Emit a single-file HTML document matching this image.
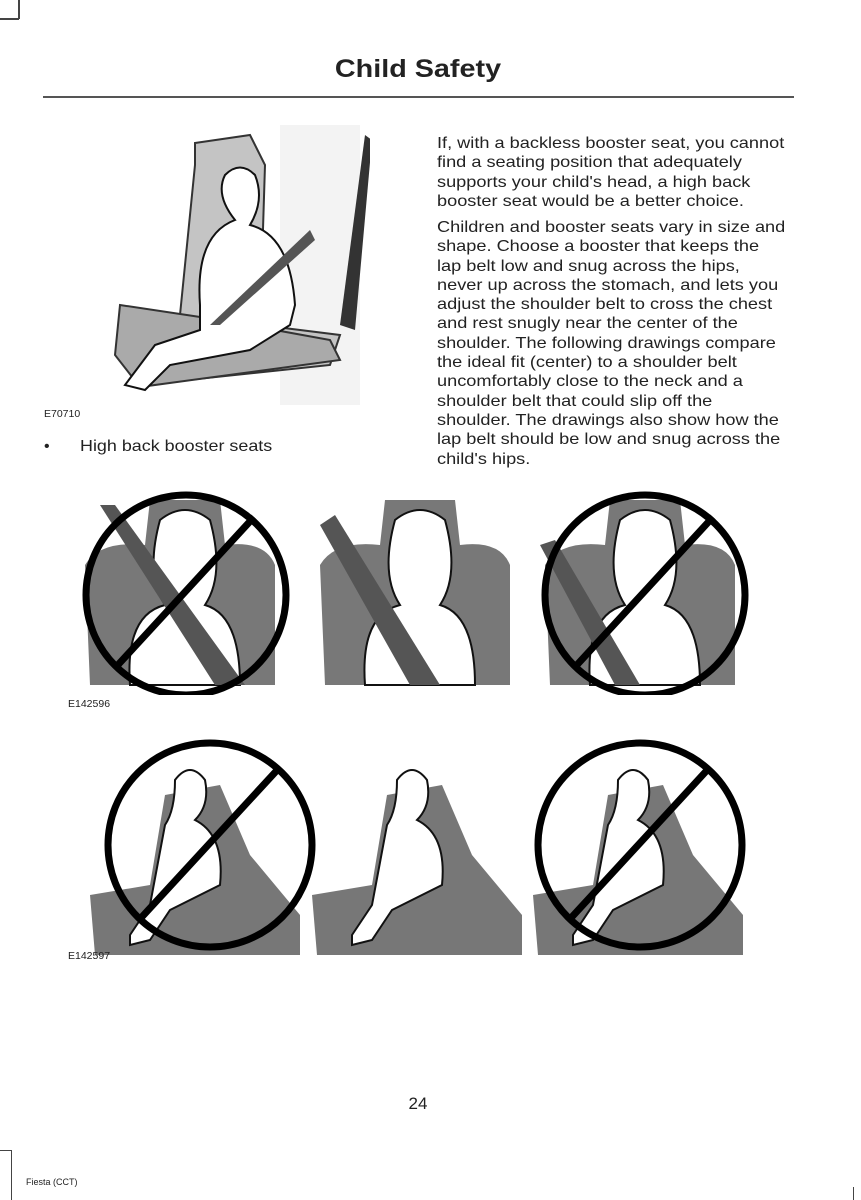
<!DOCTYPE html>
<html><head><meta charset="utf-8"><style>
body{margin:0;width:861px;height:1200px;position:relative;background:#fff;font-family:"Liberation Sans",sans-serif;color:#222;overflow:hidden}
.a{position:absolute}
.t{position:absolute;left:437px;width:320px;font-size:16px;line-height:19.3px;white-space:nowrap;transform:scaleX(1.135);transform-origin:0 0}
.lbl{position:absolute;font-size:10.5px}
</style></head><body>
<div class="a" style="left:18px;top:0;width:1.5px;height:19px;background:#444"></div>
<div class="a" style="left:0;top:18px;width:19px;height:1.5px;background:#444"></div>
<div class="a" style="left:0;top:1150px;width:11px;height:1px;background:#444"></div>
<div class="a" style="left:11px;top:1150px;width:1px;height:50px;background:#444"></div>
<div class="a" style="left:853px;top:1187px;width:1px;height:13px;background:#444"></div>
<div class="a" style="left:0;width:836px;top:55px;text-align:center;font-size:25px;font-weight:bold;transform:scaleX(1.15);transform-origin:418px 0">Child Safety</div>
<div class="a" style="left:43px;top:96px;width:751px;height:1.5px;background:#555"></div>

<svg class="a" style="left:100px;top:125px" width="270" height="285">
<rect x="180" y="0" width="80" height="280" fill="#f3f3f3"/>
<path d="M95 18 L150 10 L165 40 L160 200 L240 210 L230 240 L40 260 L30 215 L45 200 L80 190 L95 40 Z" fill="#c4c4c4" stroke="#333" stroke-width="2"/>
<path d="M20 180 L120 195 L230 215 L240 235 L40 262 L15 230 Z" fill="#aaa" stroke="#333" stroke-width="2"/>
<path d="M265 10 L240 200 L255 205 L272 15Z" fill="#333"/>
<path d="M100 180 Q95 110 135 95 Q115 70 125 50 Q140 35 155 50 Q165 75 150 100 Q190 110 195 180 L190 200 L150 225 L70 240 L45 265 L25 260 L55 220 L100 205Z" fill="#fff" stroke="#111" stroke-width="2"/>
<path d="M110 200 L210 105 L215 115 L120 200Z" fill="#555"/>
</svg>
<div class="lbl" style="left:44px;top:408px">E70710</div>
<div class="a" style="left:44px;top:438px;font-size:16px">•</div>
<div class="a" style="left:80px;top:438px;font-size:16px;transform:scaleX(1.12);transform-origin:0 0">High back booster seats</div>

<div class="t" style="top:134px">If, with a backless booster seat, you cannot<br>find a seating position that adequately<br>supports your child's head, a high back<br>booster seat would be a better choice.</div>
<div class="t" style="top:218px">Children and booster seats vary in size and<br>shape. Choose a booster that keeps the<br>lap belt low and snug across the hips,<br>never up across the stomach, and lets you<br>adjust the shoulder belt to cross the chest<br>and rest snugly near the center of the<br>shoulder. The following drawings compare<br>the ideal fit (center) to a shoulder belt<br>uncomfortably close to the neck and a<br>shoulder belt that could slip off the<br>shoulder. The drawings also show how the<br>lap belt should be low and snug across the<br>child's hips.</div>

<svg class="a" style="left:0;top:485px" width="861" height="210">
<g id="p">
<path d="M90 200 L85 80 Q100 55 145 60 L150 15 L220 15 L225 60 Q265 55 275 80 L275 200Z" fill="#787878"/>
<path d="M130 200 Q125 130 165 120 Q145 90 160 35 Q185 15 210 35 Q225 90 205 120 Q240 130 240 200Z" fill="#fff" stroke="#111" stroke-width="2"/>
</g>
<use href="#p" x="235"/>
<use href="#p" x="460"/>
<path d="M100 20 L115 20 L245 200 L215 200Z" fill="#555"/>
<path d="M320 40 L335 30 L440 200 L410 200Z" fill="#555"/>
<path d="M540 60 L555 55 L640 200 L615 200Z" fill="#555"/>
<circle cx="186" cy="110" r="100" fill="none" stroke="#000" stroke-width="7"/>
<line x1="116" y1="182" x2="254" y2="32" stroke="#000" stroke-width="7"/>
<circle cx="645" cy="110" r="100" fill="none" stroke="#000" stroke-width="7"/>
<line x1="575" y1="182" x2="713" y2="32" stroke="#000" stroke-width="7"/>
</svg>
<div class="lbl" style="left:68px;top:698px">E142596</div>

<svg class="a" style="left:0;top:735px" width="861" height="225">
<g id="q">
<path d="M95 220 L90 160 L150 150 L165 60 L220 50 L250 120 L300 180 L300 220Z" fill="#777"/>
<path d="M130 200 L150 170 L165 90 Q175 75 175 45 Q190 25 205 45 Q210 70 195 85 Q225 100 220 150 L170 175 L150 205 L130 210Z" fill="#fff" stroke="#111" stroke-width="2"/>
</g>
<use href="#q" x="222"/>
<use href="#q" x="443"/>
<circle cx="210" cy="110" r="102" fill="none" stroke="#000" stroke-width="7"/>
<line x1="140" y1="184" x2="280" y2="32" stroke="#000" stroke-width="7"/>
<circle cx="640" cy="110" r="102" fill="none" stroke="#000" stroke-width="7"/>
<line x1="570" y1="184" x2="710" y2="32" stroke="#000" stroke-width="7"/>
</svg>
<div class="lbl" style="left:68px;top:950px">E142597</div>

<div class="a" style="left:0;width:836px;top:1094px;text-align:center;font-size:17px">24</div>
<div class="a" style="left:26px;top:1177px;font-size:9px">Fiesta (CCT)</div>
</body></html>
